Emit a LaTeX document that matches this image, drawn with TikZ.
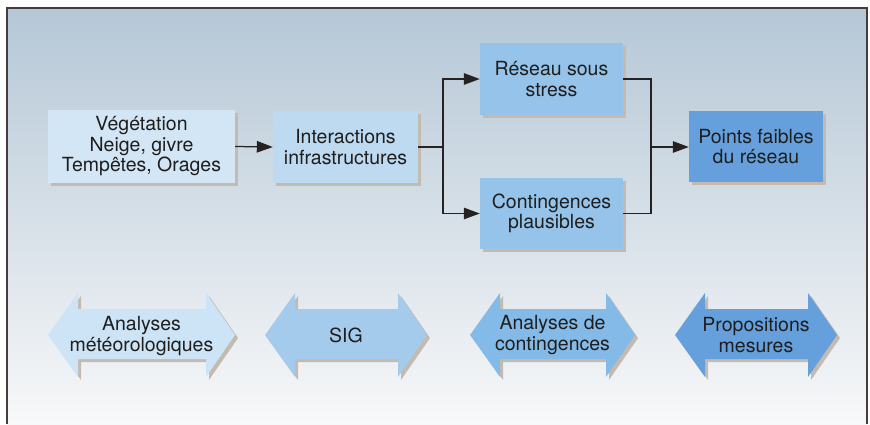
\documentclass[tikz,border=0pt]{standalone}
\usepackage{fontspec}
\setmainfont{TeX Gyre Heros}
\usetikzlibrary{arrows.meta}
\definecolor{bgtop}{RGB}{181,199,214}
\definecolor{bgbot}{RGB}{247,248,249}
\definecolor{framec}{RGB}{70,60,60}
\definecolor{shadowc}{RGB}{196,186,176}
\definecolor{fillA}{RGB}{211,230,245}
\definecolor{fillB}{RGB}{190,218,241}
\definecolor{fillC}{RGB}{150,195,233}
\definecolor{fillD}{RGB}{102,160,220}
\definecolor{arrA}{RGB}{205,228,246}
\definecolor{arrB}{RGB}{165,203,236}
\definecolor{arrC}{RGB}{132,186,231}
\definecolor{arrD}{RGB}{102,160,220}
\definecolor{textc}{RGB}{30,30,30}
\definecolor{linec}{RGB}{38,34,34}
\tikzset{
  boxstyle/.style={rectangle, inner sep=0pt, align=center, text=textc,
    font=\fontsize{19.5}{20.5}\selectfont,
    preaction={fill=shadowc, transform canvas={shift={(3pt,-3pt)}}}},
  lbl/.style={inner sep=0pt, align=center, text=textc,
    font=\fontsize{19.5}{20.5}\selectfont},
  conn/.style={draw=linec, line width=1.25pt},
  arr/.style={conn, -{Triangle[length=16pt,width=11.5pt]}},
}
\newcommand{\dblpath}[2]{% left tip, right tip
  (#1,335) -- (#1+30,293) -- (#1+30,309) -- (#2-29,309) -- (#2-29,293) -- (#2,335)
    -- (#2-29,377) -- (#2-29,359) -- (#1+30,359) -- (#1+30,377) -- cycle}
\newcommand{\dblarrow}[3]{% left tip, right tip, colour
  \fill[shadowc, shift={(3,3)}] \dblpath{#1}{#2};
  \fill[#3] \dblpath{#1}{#2};
}
\begin{document}
\begin{tikzpicture}[x=1pt,y=-1pt]
\useasboundingbox (0,0) rectangle (870,424);
% background
\shade[top color=bgtop, bottom color=bgbot] (7,8) rectangle (867,424);
\draw[framec, line width=1.2pt] (7,424) -- (7,8) -- (867,8) -- (867,424);

% boxes
\node[boxstyle, fill=fillA, minimum width=187pt, minimum height=73pt] (veg) at (141.5,146.5)
  {Végétation\\Neige, givre\\Tempêtes, Orages};
\node[boxstyle, fill=fillB, minimum width=145pt, minimum height=72pt] (inter) at (345.5,147)
  {Interactions\\infrastructures};
\node[boxstyle, fill=fillC, minimum width=143pt, minimum height=72pt] (stress) at (551.5,79)
  {Réseau sous\\stress};
\node[boxstyle, fill=fillC, minimum width=143pt, minimum height=71pt] (conting) at (551.5,213.5)
  {Contingences\\plausibles};
\node[boxstyle, fill=fillD, minimum width=134pt, minimum height=71pt] (points) at (756,146.5)
  {Points faibles\\du réseau};

% connectors
\coordinate (j1) at (443,147);
\coordinate (j2) at (651,147);
\draw[arr] (veg.east) -- (inter.west);
\draw[conn] (inter.east |- j1) -- (j1);
\draw[arr] (j1) |- (stress.west);
\draw[arr] (j1) |- (conting.west);
\draw[conn] (stress.east) -| (j2);
\draw[conn] (conting.east) -| (j2);
\draw[arr] (j2) -- (points.west |- j2);

% double arrows
\dblarrow{48}{235}{arrA}
\dblarrow{265}{427}{arrB}
\dblarrow{470}{635}{arrC}
\dblarrow{675}{837}{arrD}
\node[lbl] (meteo) at (141.5,336) {Analyses\\météorologiques};
\node[lbl] (sig) at (346,335) {SIG};
\node[lbl] (anacont) at (552.5,335) {Analyses de\\contingences};
\node[lbl] (props) at (756,335) {Propositions\\mesures};
\end{tikzpicture}
\end{document}
